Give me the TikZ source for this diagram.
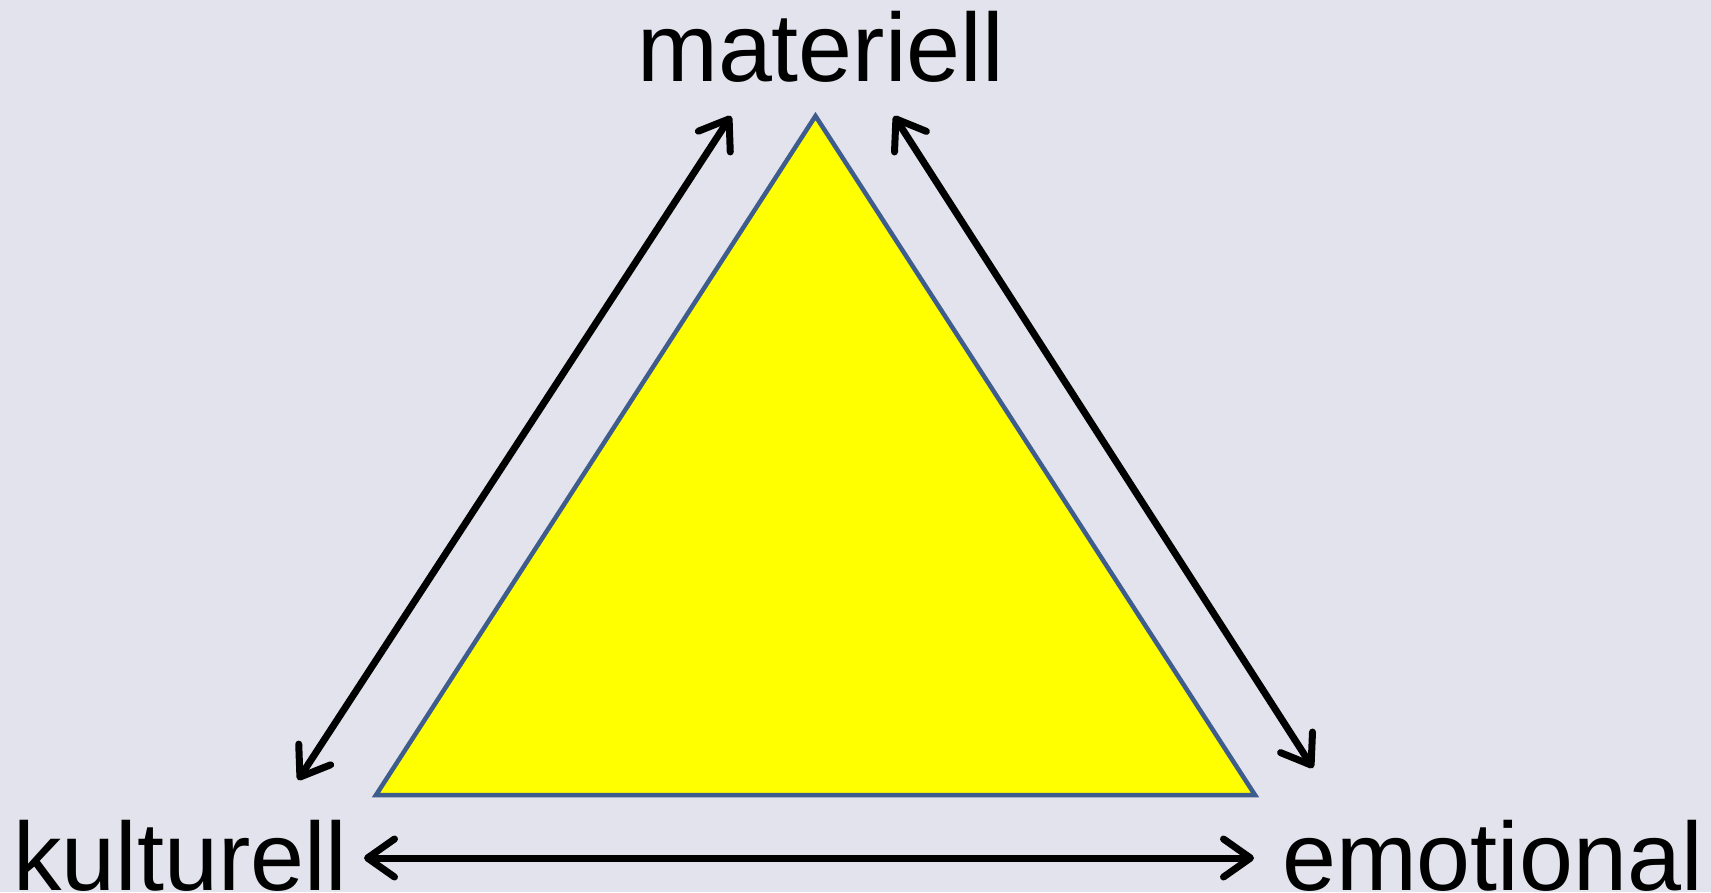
\documentclass[tikz,border=0pt]{standalone}
\usepackage{fontspec}
\setmainfont{Liberation Sans}
\usetikzlibrary{arrows.meta}
\definecolor{bgc}{RGB}{226,227,236}
\definecolor{triedge}{RGB}{62,92,140}
\definecolor{triyellow}{RGB}{255,255,0}
\tikzset{
  lbl/.style={anchor=base west, inner sep=0pt, font=\fontsize{97}{110}\selectfont},
  dblarrow/.style={line width=7pt, line cap=round, line join=round,
    {Straight Barb[length=27pt, width=38pt, line cap=round, line join=round]}-{Straight Barb[length=27pt, width=38pt, line cap=round, line join=round]}},
  tri/.style={draw=triedge, fill=triyellow, line width=4.5pt, line join=miter}
}
\begin{document}
\begin{tikzpicture}[x=1pt, y=-1pt]
\fill[bgc] (0,0) rectangle (1711,892);
\useasboundingbox (0,0) rectangle (1711,892);
\coordinate (A) at (815.5,116);
\coordinate (B) at (376,795);
\coordinate (C) at (1255,795);
\filldraw[tri] (A) -- (B) -- (C) -- cycle;
\node[lbl] (mat) at (637,81) {materiell};
\node[lbl] (kul) at (13,890) {kulturell};
\node[lbl] (emo) at (1282,890) {emotional};
\coordinate (l1) at (731,116);
\coordinate (l2) at (298,780);
\coordinate (r1) at (894,116);
\coordinate (r2) at (1313,768);
\coordinate (b1) at (364,858);
\coordinate (b2) at (1254,858);
\draw[dblarrow] (l1) -- (l2);
\draw[dblarrow] (r1) -- (r2);
\draw[dblarrow] (b1) -- (b2);
\end{tikzpicture}
\end{document}
